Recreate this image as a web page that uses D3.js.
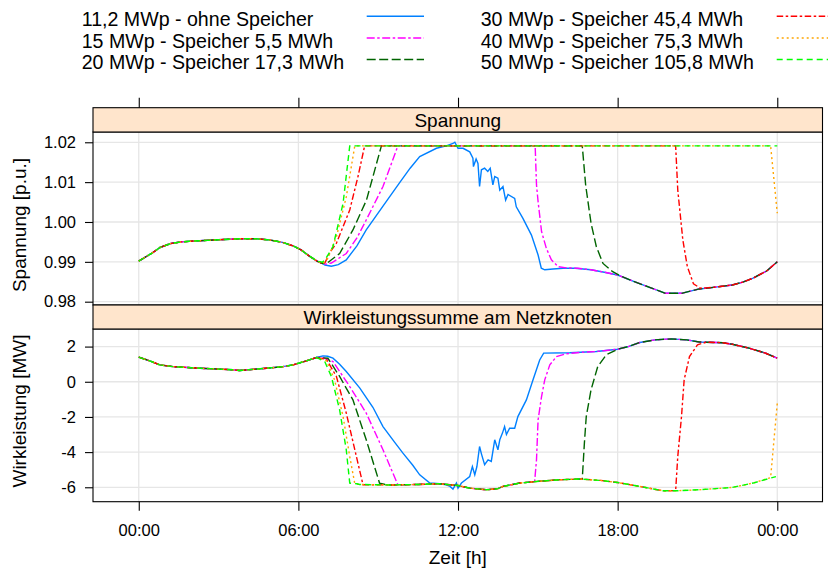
<!DOCTYPE html>
<html>
<head>
<meta charset="utf-8">
<script src="https://cdn.jsdelivr.net/npm/d3@7"></script>
<style>
  html, body { margin: 0; padding: 0; background: #fff; }
  svg { display: block; font-family: "Liberation Sans", Arial, sans-serif; }
</style>
</head>
<body>
<svg id="chart" width="828" height="577"></svg>
<script>
// ---- Series labels ----
const seriesNames = [
  "11,2 MWp - ohne Speicher",
  "15 MWp - Speicher 5,5 MWh",
  "20 MWp - Speicher 17,3 MWh",
  "30 MWp - Speicher 45,4 MWh",
  "40 MWp - Speicher 75,3 MWh",
  "50 MWp - Speicher 105,8 MWh"
];

// ---- Axis ticks ----
const timeTicks = [0, 6, 12, 18, 24];
const timeTickLabels = ["00:00", "06:00", "12:00", "18:00", "00:00"];
const voltTicks = [0.98, 0.99, 1.00, 1.01, 1.02];
const voltTickLabels = ["0.98", "0.99", "1.00", "1.01", "1.02"];
const powerTicks = [-6, -4, -2, 0, 2];
const powerTickLabels = ["-6", "-4", "-2", "0", "2"];

// ---- Spannung [p.u.] : [hour, value] ----
// shared night/morning course (identical for all scenarios)
const voltNight = [[0,0.9902],[0.48,0.9921],[0.8,0.9936],[1.2,0.9946],[1.6,0.9950],[2.0,0.9952],[2.6,0.9954],[3.2,0.9956],[3.8,0.9958],[4.4,0.9958],[4.9,0.9955],[5.4,0.9949],[5.8,0.9940],[6.1,0.9930],[6.4,0.9915],[6.7,0.9902],[6.9,0.9896]];
// shared evening course
const voltEvening = [[15.8,0.9884],[16.4,0.9884],[17.0,0.9880],[17.5,0.9874],[18.0,0.9867],[18.6,0.9851],[19.2,0.9836],[19.8,0.9821],[20.4,0.9821],[21.07,0.9832],[21.6,0.9836],[22.31,0.9842],[22.7,0.9849],[23.09,0.9859],[23.6,0.9877],[24,0.9900]];
const voltBlue = [[7.0,0.9892],[7.24,0.9889],[7.5,0.9893],[7.8,0.9905],[8.2,0.9940],[8.55,0.9980],[9.18,1.0040],[9.8,1.0098],[10.2,1.0135],[10.56,1.0164],[11.19,1.0185],[11.56,1.0191],[11.81,1.0197],[11.88,1.0200],[12.0,1.0185],[12.19,1.0185],[12.44,1.0176],[12.56,1.0160],[12.58,1.0139],[12.68,1.0158],[12.75,1.0147],[12.81,1.0089],[12.88,1.0131],[13.0,1.0135],[13.12,1.0127],[13.21,1.0135],[13.31,1.0093],[13.38,1.0114],[13.5,1.0110],[13.57,1.0080],[13.69,1.0089],[13.79,1.0055],[13.88,1.0069],[14.13,1.0059],[14.19,1.0038],[14.44,1.0009],[14.76,0.9967],[15.01,0.9917],[15.13,0.9884],[15.26,0.9880],[15.57,0.9882],[15.95,0.9884]];
const voltMagenta = [[7.0,0.9894],[7.24,0.9897],[7.8,0.9921],[8.2,0.9960],[8.55,1.0005],[9.18,1.0089],[9.74,1.0191],[14.9,1.0191],[14.95,1.0093],[15.01,1.0051],[15.14,0.9976],[15.32,0.9934],[15.51,0.9905],[15.76,0.9888],[16.07,0.9885],[16.5,0.9884]];
const voltDarkGreen = [[7.1,0.9898],[7.55,0.9921],[8.05,0.9980],[8.56,1.0055],[9.12,1.0191],[16.67,1.0191],[16.8,1.0091],[17.0,0.9997],[17.2,0.9938],[17.45,0.9896],[17.8,0.9876],[18.1,0.9865]];
const voltRed = [[7.0,0.9898],[7.2,0.9925],[7.43,0.9947],[7.93,1.0030],[8.24,1.0114],[8.49,1.0191],[20.18,1.0191],[20.26,1.0080],[20.45,0.9955],[20.62,0.9888],[20.85,0.9845],[21.1,0.9834],[21.4,0.9835]];
const voltOrange = [[6.95,0.9898],[7.11,0.9909],[7.43,0.9963],[7.80,1.0063],[8.12,1.0191],[23.75,1.0191],[24,1.0022]];
const voltGreen = [[6.9,0.9899],[7.0,0.9905],[7.3,0.9938],[7.68,1.0047],[7.93,1.0191],[24,1.0191]];

// ---- Wirkleistung [MW] : [hour, value] ----
const powerNight = [[0,1.40],[0.41,1.19],[0.79,0.96],[1.29,0.86],[2.29,0.77],[3.0,0.72],[3.54,0.68],[3.79,0.64],[4.11,0.68],[4.8,0.77],[5.42,0.86],[5.8,0.96],[6.3,1.19],[6.68,1.38]];
const powerHigh = [[17.2,1.72],[18.0,1.85],[18.4,2.0],[18.83,2.23],[19.4,2.38],[20.02,2.44],[20.6,2.38],[21.07,2.26],[21.33,2.25],[21.95,2.22],[22.31,2.13],[22.94,1.91],[23.57,1.62],[24,1.34]];
const powerLow = [[8.3,-5.84],[9.0,-5.86],[9.5,-5.87],[10.5,-5.84],[11.3,-5.80],[12.0,-5.90],[12.44,-6.05],[13.07,-6.14],[13.5,-6.08],[13.69,-5.95],[14.32,-5.76],[14.95,-5.67],[15.82,-5.57],[16.6,-5.53],[17.35,-5.61],[18.0,-5.73],[18.83,-5.95],[19.7,-6.20],[20.2,-6.20],[21.07,-6.14],[22.31,-6.01],[23.09,-5.76],[23.95,-5.39]];
const powerBlue = [[6.92,1.47],[7.1,1.45],[7.3,1.34],[7.55,1.0],[7.8,0.58],[8.31,-0.36],[8.8,-1.45],[9.18,-2.55],[9.6,-3.4],[9.93,-4.06],[10.3,-4.75],[10.56,-5.29],[10.94,-5.76],[11.31,-5.80],[11.56,-5.86],[11.7,-5.95],[11.81,-6.10],[11.94,-5.76],[12.0,-6.05],[12.13,-5.76],[12.44,-5.39],[12.54,-4.82],[12.63,-5.29],[12.71,-4.82],[12.81,-3.68],[12.88,-4.1],[13.0,-4.72],[13.13,-4.44],[13.25,-4.53],[13.38,-3.30],[13.5,-3.87],[13.57,-3.30],[13.67,-2.92],[13.75,-2.55],[13.82,-3.0],[13.94,-2.64],[14.13,-2.64],[14.25,-1.98],[14.57,-1.03],[14.82,0.11],[15.07,1.24],[15.22,1.63],[16.2,1.65],[17.2,1.72]];
const powerMagentaDrop = [[6.95,1.35],[7.3,1.15],[7.93,-0.27],[8.55,-1.78],[9.18,-3.87],[9.74,-5.86]];
const powerMagentaRise = [[14.88,-5.67],[14.95,-4.44],[15.01,-2.16],[15.14,-0.84],[15.26,0.11],[15.45,0.96],[15.70,1.43],[16.07,1.59],[16.6,1.67]];
const powerDarkGreenDrop = [[7.11,1.34],[7.55,0.30],[8.05,-1.03],[8.55,-3.30],[9.05,-5.76],[9.3,-5.86]];
const powerDarkGreenRise = [[16.67,-5.53],[16.75,-3.49],[16.82,-1.98],[17.0,-0.46],[17.25,0.86],[17.57,1.53],[18.0,1.85]];
const powerRedDrop = [[7.05,1.28],[7.43,0.30],[7.8,-1.78],[8.18,-4.25],[8.43,-5.86]];
const powerRedRise = [[20.18,-6.19],[20.26,-4.25],[20.4,-1.98],[20.5,0.11],[20.7,1.43],[21.0,2.10],[21.33,2.25]];
const powerOrangeDrop = [[7.05,1.20],[7.36,0.11],[7.68,-1.98],[7.93,-4.25],[8.12,-5.80]];
const powerOrangeRise = [[23.75,-5.45],[24,-1.22]];
const powerGreenDrop = [[6.99,1.15],[7.24,0.30],[7.55,-1.60],[7.8,-3.87],[7.93,-5.76],[8.2,-5.80]];

// ---- Styles ----
const colors = ["#0080ff", "#ff00ff", "#006400", "#ff0000", "#ffa500", "#00ff00"];
const dashes = [null, "8,2.5,2.5,2.5", "9,3.5", "6.5,2.5,2.5,2.5", "2,3", "6,4"];

// Chain course pieces; shared pieces are trimmed to fit between neighbours.
const shared = pts => ({ pts, shared: true });
const own = pts => ({ pts, shared: false });
function compose(parts) {
  const out = [];
  parts.forEach((p, i) => {
    if (p.shared) {
      const lo = out.length ? out[out.length - 1][0] : -Infinity;
      const hi = i + 1 < parts.length ? parts[i + 1].pts[0][0] : Infinity;
      p.pts.forEach(d => { if (d[0] > lo && d[0] < hi) out.push(d); });
    } else {
      p.pts.forEach(d => out.push(d));
    }
  });
  return out;
}

const voltSeries = [
  compose([shared(voltNight), own(voltBlue), shared(voltEvening)]),
  compose([shared(voltNight), own(voltMagenta), shared(voltEvening)]),
  compose([shared(voltNight), own(voltDarkGreen), shared(voltEvening)]),
  compose([shared(voltNight), own(voltRed), shared(voltEvening)]),
  compose([shared(voltNight), own(voltOrange)]),
  compose([shared(voltNight), own(voltGreen)])
];
const powerSeries = [
  compose([shared(powerNight), own(powerBlue), shared(powerHigh)]),
  compose([shared(powerNight), own(powerMagentaDrop), shared(powerLow), own(powerMagentaRise), shared(powerHigh)]),
  compose([shared(powerNight), own(powerDarkGreenDrop), shared(powerLow), own(powerDarkGreenRise), shared(powerHigh)]),
  compose([shared(powerNight), own(powerRedDrop), shared(powerLow), own(powerRedRise), shared(powerHigh)]),
  compose([shared(powerNight), own(powerOrangeDrop), shared(powerLow), own(powerOrangeRise)]),
  compose([shared(powerNight), own(powerGreenDrop), shared(powerLow)])
];

// ---- Layout ----
const W = 828, H = 577;
const left = 93, right = 822.5;
const strip1 = [107.7, 132], panel1 = [132, 305];
const strip2 = [305, 329], panel2 = [329, 501.7];

const svg = d3.select("#chart");
svg.append("rect").attr("width", W).attr("height", H).attr("fill", "#fff");

const x = d3.scaleLinear().domain([-1.72, 25.7]).range([left, right]);
const yV = d3.scaleLinear().domain([0.97917, 1.02258]).range([panel1[1], panel1[0]]);
const yP = d3.scaleLinear().domain([-6.82, 3.0]).range([panel2[1], panel2[0]]);

const gridColor = "#e6e6e6";
const tickFont = 16.5;

function drawPanel(panel, strip, y, ticks, tickLabels, title, series, ylabel, ylabelY) {
  const g = svg.append("g");
  // grid
  g.selectAll(".vg").data(timeTicks).join("line")
    .attr("x1", d => x(d)).attr("x2", d => x(d))
    .attr("y1", panel[0]).attr("y2", panel[1])
    .attr("stroke", gridColor).attr("stroke-width", 1.3);
  g.selectAll(".hg").data(ticks).join("line")
    .attr("x1", left).attr("x2", right)
    .attr("y1", d => y(d)).attr("y2", d => y(d))
    .attr("stroke", gridColor).attr("stroke-width", 1.3);

  // series, first drawn at bottom
  const line = d3.line().x(d => x(d[0])).y(d => y(d[1]));
  series.forEach((s, i) => {
    g.append("path").attr("d", line(s))
      .attr("fill", "none")
      .attr("stroke", colors[i])
      .attr("stroke-width", 1.4)
      .attr("stroke-dasharray", dashes[i]);
  });

  // frame
  g.append("rect").attr("x", left).attr("y", panel[0])
    .attr("width", right - left).attr("height", panel[1] - panel[0])
    .attr("fill", "none").attr("stroke", "#000").attr("stroke-width", 1.1);

  // strip
  g.append("rect").attr("x", left).attr("y", strip[0])
    .attr("width", right - left).attr("height", strip[1] - strip[0])
    .attr("fill", "#ffe5cc").attr("stroke", "#000").attr("stroke-width", 1.1);
  g.append("text").attr("x", (left + right) / 2).attr("y", (strip[0] + strip[1]) / 2)
    .attr("dy", "0.35em").attr("text-anchor", "middle")
    .attr("font-size", 19).attr("fill", "#000").text(title);

  // left axis
  const ax = d3.axisLeft(y).tickValues(ticks).tickFormat((d, i) => tickLabels[i])
    .tickSizeInner(8).tickSizeOuter(0).tickPadding(9);
  const axg = g.append("g").attr("transform", `translate(${left},0)`).call(ax);
  axg.select(".domain").remove();
  axg.selectAll("line").attr("stroke", "#000").attr("stroke-width", 1.1);
  axg.selectAll("text").attr("font-size", tickFont).attr("fill", "#000")
    .attr("font-family", "Liberation Sans, Arial, sans-serif");

  // y label
  g.append("text")
    .attr("transform", `translate(19,${ylabelY}) rotate(-90)`)
    .attr("dy", "0.35em").attr("text-anchor", "middle")
    .attr("font-size", 19).attr("fill", "#000").text(ylabel);
}

drawPanel(panel1, strip1, yV, voltTicks, voltTickLabels, "Spannung", voltSeries, "Spannung [p.u.]", 225);
drawPanel(panel2, strip2, yP, powerTicks, powerTickLabels, "Wirkleistungssumme am Netzknoten", powerSeries, "Wirkleistung [MW]", 411);

// top ticks (above first strip)
const topAxis = d3.axisTop(x).tickValues(timeTicks).tickFormat("").tickSizeInner(10).tickSizeOuter(0);
const tg = svg.append("g").attr("transform", `translate(0,${strip1[0]})`).call(topAxis);
tg.select(".domain").remove();
tg.selectAll("line").attr("stroke", "#000").attr("stroke-width", 1.1);

// bottom axis
const botAxis = d3.axisBottom(x).tickValues(timeTicks).tickFormat((d, i) => timeTickLabels[i])
  .tickSizeInner(9).tickSizeOuter(0).tickPadding(14);
const bg = svg.append("g").attr("transform", `translate(0,${panel2[1]})`).call(botAxis);
bg.select(".domain").remove();
bg.selectAll("line").attr("stroke", "#000").attr("stroke-width", 1.1);
bg.selectAll("text").attr("font-size", tickFont).attr("fill", "#000")
  .attr("font-family", "Liberation Sans, Arial, sans-serif");

svg.append("text").attr("x", (left + right) / 2).attr("y", 557)
  .attr("dy", "0.35em").attr("text-anchor", "middle")
  .attr("font-size", 19).attr("fill", "#000").text("Zeit [h]");

// ---- Legend (two columns of three) ----
const legendCols = [
  { textX: 81.7, lineX1: 366.7, lineX2: 424 },
  { textX: 480.7, lineX1: 776.7, lineX2: 834 }
];
const legendRowY = [16.3, 38, 59.5];
const lg = svg.append("g");
seriesNames.forEach((name, i) => {
  const col = legendCols[Math.floor(i / 3)];
  const yy = legendRowY[i % 3];
  lg.append("text").attr("x", col.textX).attr("y", yy + 3)
    .attr("dy", "0.35em").attr("font-size", 19.6).attr("fill", "#000").text(name);
  lg.append("line").attr("x1", col.lineX1).attr("x2", col.lineX2)
    .attr("y1", yy).attr("y2", yy)
    .attr("stroke", colors[i]).attr("stroke-width", 1.6)
    .attr("stroke-dasharray", dashes[i]);
});
</script>
</body>
</html>
